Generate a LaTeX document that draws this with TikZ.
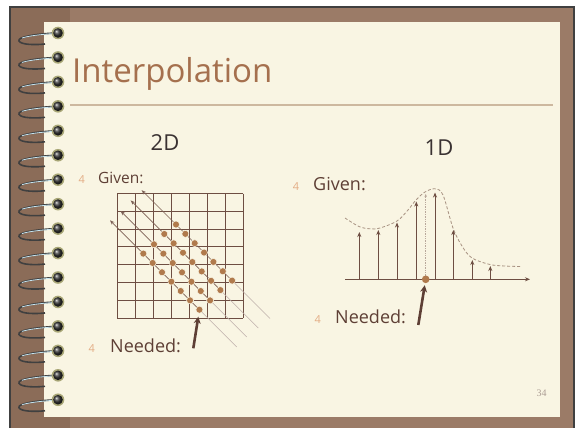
\documentclass[tikz,border=0pt]{standalone}
\usepackage{fontspec}
\setmainfont{Open Sans}
\newfontfamily\numfont{Liberation Serif}
\usepackage{xcolor}
\usetikzlibrary{arrows.meta,calc}
\definecolor{framec}{HTML}{9B7B67}
\definecolor{framedk}{HTML}{8B6C58}
\definecolor{paper}{HTML}{F9F5E3}
\definecolor{ink}{HTML}{5E3F35}
\definecolor{headc}{HTML}{3A3232}
\definecolor{titlec}{HTML}{A5704E}
\definecolor{dotc}{HTML}{B07A4C}
\definecolor{bullc}{HTML}{E3AC84}
\definecolor{gridc}{HTML}{6E4E42}
\definecolor{rulec}{HTML}{CDB89F}
\definecolor{curvec}{HTML}{A89282}
\begin{document}
\begin{tikzpicture}[x=1pt,y=-1pt,>=Stealth,
  gridln/.style={gridc,line width=1.1pt},
  diagln/.style={gridc!90,line width=0.7pt},
  diagfade/.style={gridc!45,line width=0.6pt},
  sdot/.style={fill=dotc,draw=paper,line width=0.5pt},
  stem/.style={gridc,line width=1pt,-{Stealth[length=5pt,width=4pt]}},
  needarr/.style={ink,line width=2.6pt,-{Stealth[length=7pt,width=7pt]}},
  bull/.style={anchor=base,inner sep=0,text=bullc,font=\fontsize{11}{13}\selectfont},
  lbl/.style={anchor=base west,inner sep=0,text=ink},
  head/.style={anchor=base,inner sep=0,text=headc,font=\fontsize{22}{26}\selectfont}]
\useasboundingbox (0,0) rectangle (575,428);
% notebook frame
\fill[white] (0,0) rectangle (575,428);
\fill[framec] (10,7) rectangle (575,428);
\fill[framedk] (10,7) rectangle (70,428);
\draw[black!75,line width=2pt] (10,428) -- (10,7) -- (574,7) -- (574,428);
\fill[paper] (44,22) rectangle (560,417);
% spiral rings
\foreach \i in {0,...,15}{
  \pgfmathsetmacro\ry{33+24.45*\i}
  \draw[black!75,line width=1.6pt] (56,\ry) .. controls (35,\ry+1) and (17,\ry+4) .. (19,\ry+8) .. controls (21,\ry+12) and (36,\ry+12) .. (45,\ry+11);
  \draw[gray!40!cyan!30!white,line width=0.8pt] (54,\ry+0.5) .. controls (40,\ry+1.5) and (28,\ry+3) .. (22,\ry+5);
  \fill[black!25!paper!70!olive] (58,\ry) circle[radius=6.3pt];
  \shade[ball color=black!80] (58,\ry) circle[radius=4.8pt];
}
% title
\node[anchor=base west,inner sep=0,text=titlec,font=\fontsize{33}{38}\selectfont] (title) at (72,82) {Interpolation};
\draw[rulec,line width=1.2pt] (70,105) -- (553,105);
\node[head] (h2d) at (165,150) {2D};
\node[head] (h1d) at (439,155) {1D};
% labels
\node[bull] (bgl) at (81.7,183) {4};
\node[lbl,font=\fontsize{15.5}{18}\selectfont] (givl) at (98,183) {Given:};
\node[bull] (bgr) at (296,190) {4};
\node[lbl,font=\fontsize{18}{21}\selectfont] (givr) at (313,190) {Given:};
\node[bull] (bnl) at (91.7,352) {4};
\node[lbl,font=\fontsize{18}{21}\selectfont] (nedl) at (110,352) {Needed:};
\node[bull] (bnr) at (317.7,323) {4};
\node[lbl,font=\fontsize{18}{21}\selectfont] (nedr) at (335,323) {Needed:};
% 2D grid
\foreach \k in {0,...,7}{
  \draw[gridln] (117.3+18*\k,193.5) -- (117.3+18*\k,318);
  \draw[gridln] (117.3,193.5+17.8*\k) -- (243.3,193.5+17.8*\k);
}
\foreach \c/\xa/\xb/\xd [count=\n] in {48.5/141.7/270/176,69.7/130.7/258.3/164.3,90.3/120.7/246.7/154,110.3/110/236.7/143.3}{
  \coordinate (dA\n) at (\xb,\xb+\c);
  \coordinate (dB\n) at (\xa,\xa+\c);
  \coordinate (dC\n) at (\xd+56.1,\xd+56.1+\c);
  \draw[diagfade] (dA\n) -- (dC\n);
  \draw[diagln,-{Stealth[length=4.5pt,width=3.5pt]}] (dC\n) -- (dB\n);
  \foreach \m in {0,...,6}
    \path[sdot] (\xd+9.35*\m,\xd+9.35*\m+\c) coordinate (p\n-\m) circle[radius=3.5pt];
}
\coordinate (tail2d) at (193.3,348.3);
\draw[needarr,shorten >=7pt] (tail2d) -- (p4-6);
% 1D samples
\coordinate (ax0) at (345,279.3); \coordinate (ax1) at (530,279.3);
\draw[stem] (ax0) -- (ax1);
\draw[curvec,line width=0.8pt,densely dashed] plot[smooth,tension=0.55] coordinates {(345,218) (359,226.5) (370,228.8) (380,228) (397,221) (408,210) (416,200) (425,192) (435,188.8) (443,195) (453,228) (462,246) (472,258) (490,264.5) (505,266) (520,266.5)};
\foreach \x/\t [count=\n] in {359.3/232,378.3/230,397/222.5,416.3/201.5,435/192.5,453.3/230,472.3/260,490.3/266}{
  \coordinate (s\n) at (\x,279.3);
  \coordinate (t\n) at (\x,\t);
  \draw[stem] (s\n) -- (t\n);
}
\coordinate (need1d) at (425.7,279.3);
\coordinate (ntop) at (425.7,194);
\draw[curvec!80,line width=0.7pt,densely dotted,-{Stealth[length=3pt,width=2.5pt]}] (need1d) -- (ntop);
\fill[dotc] (need1d) circle[radius=3.8pt];
\coordinate (tail1d) at (418.3,325);
\draw[needarr,shorten >=6pt] (tail1d) -- (need1d);
% page number
\node[inner sep=0,text=black!25!framec!60!white,font=\numfont\fontsize{10}{12}\selectfont] (pnum) at (541.7,393.3) {34};
\end{tikzpicture}
\end{document}
